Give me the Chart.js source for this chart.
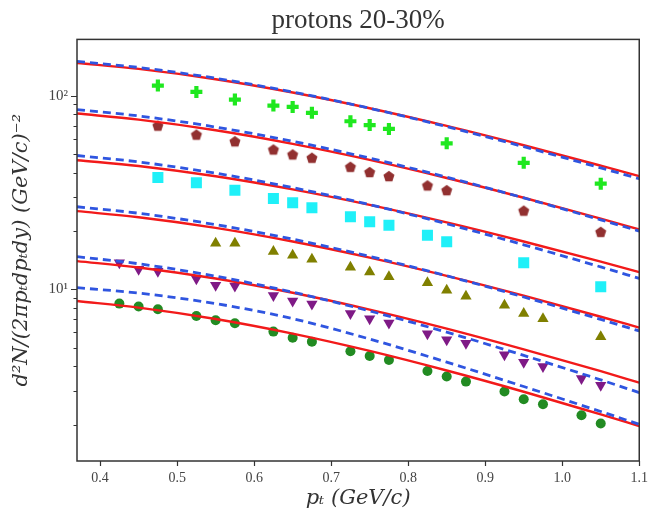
<!DOCTYPE html>
<html>
<head>
<meta charset="utf-8">
<script src="https://cdn.jsdelivr.net/npm/chart.js@4/dist/chart.umd.min.js"></script>
<style>
  html, body { margin: 0; padding: 0; background: #ffffff; }
  #wrap { width: 651px; height: 516px; }
</style>
</head>
<body>
<div id="wrap"><canvas id="c" width="651" height="516"></canvas></div>
<script>
// ---------- data ----------
const titleText = 'protons 20-30%';
const xTickValues = [0.4, 0.5, 0.6, 0.7, 0.8, 0.9, 1.0, 1.1];
const yTickValues = [2, 3, 4, 5, 6, 7, 8, 9, 10, 20, 30, 40, 50, 60, 70, 80, 90, 100];
const yTickLabels = { 10: '10\u00b9', 100: '10\u00b2' };

// measured points (pT in GeV/c)
const xCross  = [0.475, 0.525, 0.575, 0.625, 0.65, 0.675, 0.725, 0.75, 0.775, 0.85, 0.95, 1.05];
const yCross  = [112.6, 104.5, 95.4, 88.8, 87.4, 81.5, 73.7, 70.4, 67.3, 56.7, 45.0, 35.1];
const xPent   = [0.475, 0.525, 0.575, 0.625, 0.65, 0.675, 0.725, 0.75, 0.775, 0.825, 0.85, 0.95, 1.05];
const yPent   = [70.0, 62.9, 58.1, 52.7, 49.7, 47.8, 42.9, 40.3, 38.4, 34.4, 32.5, 25.5, 19.8];
const xSquare = [0.475, 0.525, 0.575, 0.625, 0.65, 0.675, 0.725, 0.75, 0.775, 0.825, 0.85, 0.95, 1.05];
const ySquare = [37.8, 35.5, 32.5, 29.4, 28.0, 26.4, 23.7, 22.3, 21.4, 19.0, 17.6, 13.7, 10.3];
const xTriUp  = [0.55, 0.575, 0.625, 0.65, 0.675, 0.725, 0.75, 0.775, 0.825, 0.85, 0.875, 0.925, 0.95, 0.975, 1.05];
const yTriUp  = [17.3, 17.3, 15.7, 15.0, 14.3, 13.0, 12.3, 11.6, 10.8, 9.9, 9.2, 8.27, 7.5, 7.06, 5.7];
const xTriDn  = [0.425, 0.45, 0.475, 0.525, 0.55, 0.575, 0.625, 0.65, 0.675, 0.725, 0.75, 0.775, 0.825, 0.85, 0.875, 0.925, 0.95, 0.975, 1.025, 1.05];
const yTriDn  = [13.7, 12.7, 12.4, 11.35, 10.5, 10.4, 9.3, 8.7, 8.4, 7.5, 7.05, 6.7, 5.9, 5.5, 5.27, 4.6, 4.2, 4.0, 3.47, 3.2];
const xCircle = [0.425, 0.45, 0.475, 0.525, 0.55, 0.575, 0.625, 0.65, 0.675, 0.725, 0.75, 0.775, 0.825, 0.85, 0.875, 0.925, 0.95, 0.975, 1.025, 1.05];
const yCircle = [8.44, 8.15, 7.89, 7.28, 6.92, 6.68, 6.05, 5.63, 5.37, 4.79, 4.53, 4.32, 3.79, 3.55, 3.34, 2.97, 2.71, 2.55, 2.24, 2.03];

// model curves (solid red and dashed blue), sampled along pT
const xCurve = [0.37, 0.45, 0.55, 0.65, 0.75, 0.85, 0.95, 1.05, 1.1];
const red1  = [147.4, 137.4, 121.5, 103.75, 86.08, 69.75, 55.43, 43.47, 38.37];
const blue1 = [150.2, 139.7, 122.9, 104.4, 86.0, 69.14, 54.48, 42.34, 37.21];
const red2  = [80.77, 75.15, 66.25, 56.37, 46.59, 37.56, 29.70, 23.15, 20.39];
const blue2 = [84.71, 78.52, 68.80, 58.09, 47.55, 37.93, 29.65, 22.84, 19.98];
const red3  = [46.40, 43.28, 38.32, 32.80, 27.28, 22.15, 17.66, 13.89, 12.28];
const blue3 = [49.07, 45.45, 39.77, 33.51, 27.37, 21.78, 16.98, 13.05, 11.39];
const red4  = [25.32, 23.56, 20.76, 17.65, 14.57, 11.73, 9.27, 7.22, 6.35];
const blue4 = [26.69, 24.70, 21.58, 18.15, 14.79, 11.74, 9.13, 6.99, 6.10];
const red5  = [13.99, 12.97, 11.37, 9.60, 7.86, 6.27, 4.90, 3.78, 3.30];
const blue5 = [14.74, 13.55, 11.69, 9.67, 7.73, 6.01, 4.56, 3.41, 2.93];
const red6  = [8.70, 8.05, 7.03, 5.91, 4.81, 3.81, 2.96, 2.26, 1.97];
const blue6 = [10.20, 9.56, 8.44, 7.06, 5.54, 4.21, 3.15, 2.34, 2.01];

// ---------- helpers ----------
const pts = (xs, ys) => xs.map((x, i) => ({ x: x, y: ys[i] }));

function pentagonImage(color, r) {
  const s = Math.ceil(2 * r + 2);
  const cv = document.createElement('canvas');
  cv.width = s; cv.height = s;
  const g = cv.getContext('2d');
  g.fillStyle = color;
  g.beginPath();
  for (let k = 0; k < 5; k++) {
    const a = -Math.PI / 2 + k * 2 * Math.PI / 5;
    const px = s / 2 + r * Math.cos(a), py = s / 2 + r * Math.sin(a) + 0.5;
    if (k === 0) g.moveTo(px, py); else g.lineTo(px, py);
  }
  g.closePath();
  g.fill();
  return cv;
}

const RED = '#f21a1a';
const BLUE = '#2f55e0';

function marker(xs, ys, style, color, radius, extra) {
  return Object.assign({
    data: pts(xs, ys), showLine: false, pointStyle: style,
    pointRadius: radius, pointHoverRadius: radius,
    backgroundColor: color, borderColor: color, borderWidth: 0, order: 3
  }, extra || {});
}
function curve(ys, color, dashed) {
  return {
    data: pts(xCurve, ys), showLine: true, pointRadius: 0, pointHoverRadius: 0,
    borderColor: color, backgroundColor: color, borderWidth: dashed ? 2.8 : 2.4,
    borderDash: dashed ? [8, 5] : [], cubicInterpolationMode: 'monotone',
    fill: false, order: dashed ? 1 : 2
  };
}

const datasets = [
  marker(xCross, yCross, 'cross', '#1fe81f', 6, { borderWidth: 4.2 }),
  marker(xPent, yPent, pentagonImage('#923030', 5.8), '#923030', 6),
  marker(xSquare, ySquare, 'rect', '#1ff0f8', 7.8),
  marker(xTriUp, yTriUp, 'triangle', '#808000', 6.5),
  marker(xTriDn, yTriDn, 'triangle', '#7f1a86', 6.5, { rotation: 180 }),
  marker(xCircle, yCircle, 'circle', '#228b22', 5),
  curve(red1, RED, false), curve(blue1, BLUE, true),
  curve(red2, RED, false), curve(blue2, BLUE, true),
  curve(red3, RED, false), curve(blue3, BLUE, true),
  curve(red4, RED, false), curve(blue4, BLUE, true),
  curve(red5, RED, false), curve(blue5, BLUE, true),
  curve(red6, RED, false), curve(blue6, BLUE, true)
];

// frame and tick marks like matplotlib
const framePlugin = {
  id: 'frame',
  afterDraw(chart) {
    const { ctx, chartArea: a } = chart;
    const xs = chart.scales.x, ys = chart.scales.y;
    ctx.save();
    ctx.strokeStyle = '#333333';
    ctx.lineWidth = 1.2;
    ctx.beginPath();
    xs.ticks.forEach(t => {
      const px = Math.round(xs.getPixelForValue(t.value)) + 0.5;
      ctx.moveTo(px, a.bottom); ctx.lineTo(px, a.bottom + 5);
    });
    ys.ticks.forEach(t => {
      const py = Math.round(ys.getPixelForValue(t.value)) + 0.5;
      const major = (t.value === 10 || t.value === 100);
      ctx.moveTo(a.left, py); ctx.lineTo(a.left - (major ? 6 : 3.5), py);
    });
    ctx.stroke();
    ctx.lineWidth = 1.5;
    ctx.strokeRect(a.left, a.top, a.right - a.left, a.bottom - a.top);
    ctx.restore();
  }
};

const serif = "'Liberation Serif', 'DejaVu Serif', serif";
const wideSerif = "'DejaVu Serif', 'Liberation Serif', serif";

new Chart(document.getElementById('c'), {
  type: 'scatter',
  data: { datasets: datasets },
  options: {
    responsive: false,
    animation: false,
    devicePixelRatio: 1,
    layout: { padding: { left: 0, right: 10, top: 0, bottom: 0 } },
    plugins: {
      legend: { display: false },
      tooltip: { enabled: false },
      title: {
        display: true, text: titleText, color: '#333333', fullSize: false,
        font: { family: serif, size: 27, weight: 'normal' },
        padding: { top: 5, bottom: 2 }
      }
    },
    scales: {
      x: {
        type: 'linear', min: 0.37, max: 1.1,
        afterBuildTicks: s => { s.ticks = xTickValues.map(v => ({ value: v })); },
        afterFit: s => { s.height = 55; },
        border: { display: false },
        grid: { display: false, drawTicks: true, tickLength: 6 },
        ticks: {
          autoSkip: false, maxRotation: 0, padding: 3, color: '#444444',
          font: { family: serif, size: 14 },
          callback: v => Number(v).toFixed(1)
        },
        title: {
          display: true, text: 'p\u209c (GeV/c)', color: '#333333',
          font: { family: wideSerif, size: 21, style: 'italic' },
          padding: { top: 0, bottom: 5 }
        }
      },
      y: {
        type: 'logarithmic', min: 1.3, max: 195,
        afterBuildTicks: s => { s.ticks = yTickValues.map(v => ({ value: v })); },
        afterFit: s => { s.width = 77; },
        border: { display: false },
        grid: { display: false, drawTicks: true, tickLength: 6 },
        ticks: {
          autoSkip: false, padding: 3, color: '#444444',
          font: { family: serif, size: 15 },
          callback: v => yTickLabels[v] || ''
        },
        title: {
          display: true, text: 'd\u00b2N/(2\u03c0p\u209cdp\u209cdy) (GeV/c)\u207b\u00b2', color: '#333333',
          font: { family: wideSerif, size: 21, style: 'italic' },
          padding: { top: 9, bottom: 0 }
        }
      }
    }
  },
  plugins: [framePlugin]
});
</script>
</body>
</html>
